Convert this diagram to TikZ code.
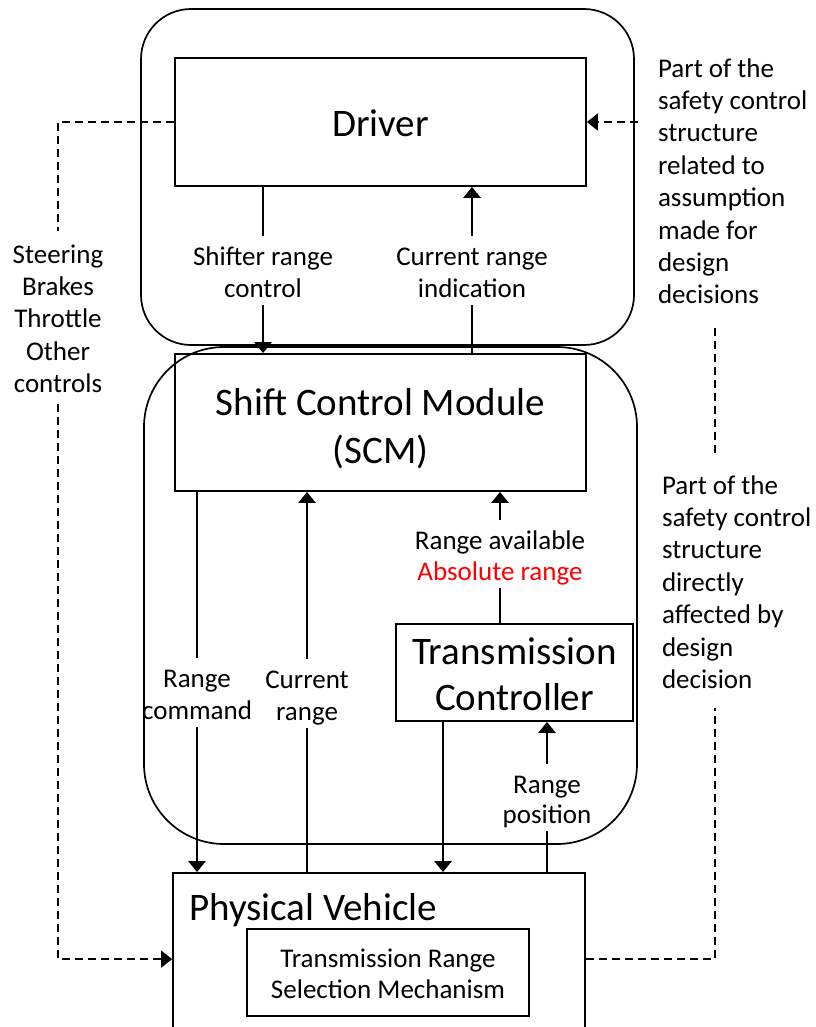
\documentclass[tikz,border=0pt]{standalone}
\usepackage{fontspec}
\setmainfont{Carlito}
\usetikzlibrary{arrows.meta}

\tikzset{
  box/.style={draw, line width=1.8pt, inner sep=0pt, align=center},
  group/.style={draw, line width=1.7pt, rounded corners=#1},
  bigtext/.style={font=\fontsize{39}{48}\selectfont},
  lbl/.style={inner sep=0pt, outer sep=8pt, align=center, text depth=0pt,
              font=\fontsize{27}{32.4}\selectfont},
  note/.style={lbl, align=left, anchor=west, outer sep=20pt},
  conn/.style={line width=2.9pt},
  tip/.style={-{Triangle[length=11pt,width=17pt]}},
  arr/.style={conn, tip},
  dashconn/.style={line width=1.7pt, dash pattern=on 8pt off 5pt},
}

\begin{document}
\begin{tikzpicture}[x=1pt,y=-1pt]
\useasboundingbox (0,0) rectangle (815,1027);

% grouping outlines
\draw[group=50pt] (141,9) rectangle (634,345);
\draw[group=80pt] (144,347) rectangle (637,844);

% main blocks
\node[box, bigtext, minimum width=411pt, minimum height=128pt, text height=30pt, text depth=0pt]
  (driver) at (380.5,122) {Driver};
\node[box, bigtext, minimum width=411pt, minimum height=137pt, text height=81pt, text depth=0pt]
  (scm) at (380.5,422.5) {Shift Control Module\\(SCM)};
\node[box, minimum width=237pt, minimum height=97pt, text height=75pt, text depth=0pt,
      font=\fontsize{39}{46}\selectfont] (tc) at (514.5,672.5) {Transmission\\Controller};
\node[box, minimum width=412pt, minimum height=170pt] (pv) at (379,958) {};
\node[anchor=base west, inner sep=0pt, bigtext] (pvtext) at (189,920) {Physical Vehicle};
\node[box, minimum width=282pt, minimum height=87pt, text height=51pt, text depth=0pt,
      font=\fontsize{27}{30.5}\selectfont] (trsm) at (388,972.5) {Transmission Range\\Selection Mechanism};

% connector labels
\node[lbl, text height=53.4pt] (shl) at (263,270.7) {Shifter range\\control};
\node[lbl, text height=53.4pt] (cri) at (472,270.7) {Current range\\indication};
\node[lbl, text height=53.4pt] (rcmd) at (197,692.7) {Range\\command};
\node[lbl, text height=53.4pt] (crng) at (307,693.7) {Current\\range};
\node[lbl, text height=52pt, font=\fontsize{27}{31}\selectfont] (ravl) at (500,554)
  {Range available\\\textcolor{red}{Absolute range}};
\node[lbl, text height=51pt, font=\fontsize{27}{30}\selectfont] (rpos) at (547,797.5) {Range\\position};
\node[lbl, text height=150.6pt, outer sep=11pt] (ctl) at (58,317.3) {Steering\\Brakes\\Throttle\\Other\\controls};

% side notes
\node[note, text height=247.8pt] (ann1) at (638,179.9)
  {Part of the\\safety control\\structure\\related to\\assumption\\made for\\design\\decisions};
\node[note, text height=215.4pt] (ann2) at (642,580.7)
  {Part of the\\safety control\\structure\\directly\\affected by\\design\\decision};

% helper points
\coordinate (tcx) at (443,0);
\coordinate (rcol) at (715,0);
\path (pv.north west) ++(0,87) coordinate (pvL);
\path (pv.north east) ++(0,87) coordinate (pvR);

% control and feedback paths
\draw[conn] (driver.south -| shl) -- (shl.north);
\draw[arr] (shl.south) -- (scm.north -| shl);
\draw[conn] (scm.north -| cri) -- (cri.south);
\draw[arr] (cri.north) -- (driver.south -| cri);
\draw[conn] (scm.south -| rcmd) -- (rcmd.north);
\draw[arr] (rcmd.south) -- (pv.north -| rcmd);
\draw[conn] (pv.north -| crng) -- (crng.south);
\draw[arr] (crng.north) -- (scm.south -| crng);
\draw[conn] (tc.north -| ravl) -- (ravl.south);
\draw[arr] (ravl.north) -- (scm.south -| ravl);
\draw[arr] (tc.south -| tcx) -- (pv.north -| tcx);
\draw[conn] (pv.north -| rpos) -- (rpos.south);
\draw[arr] (rpos.north) -- (tc.south -| rpos);

% dashed links
\draw[dashconn] (driver.west) -| (ctl.north);
\draw[dashconn, tip] (ctl.south) |- (pvL);
\draw[dashconn] (pvR) -| (ann2.south -| rcol);
\draw[dashconn] (ann2.north -| rcol) -- (ann1.south -| rcol);
\draw[dashconn, tip] (driver.east -| ann1.west) -- (driver.east);
\end{tikzpicture}
\end{document}
